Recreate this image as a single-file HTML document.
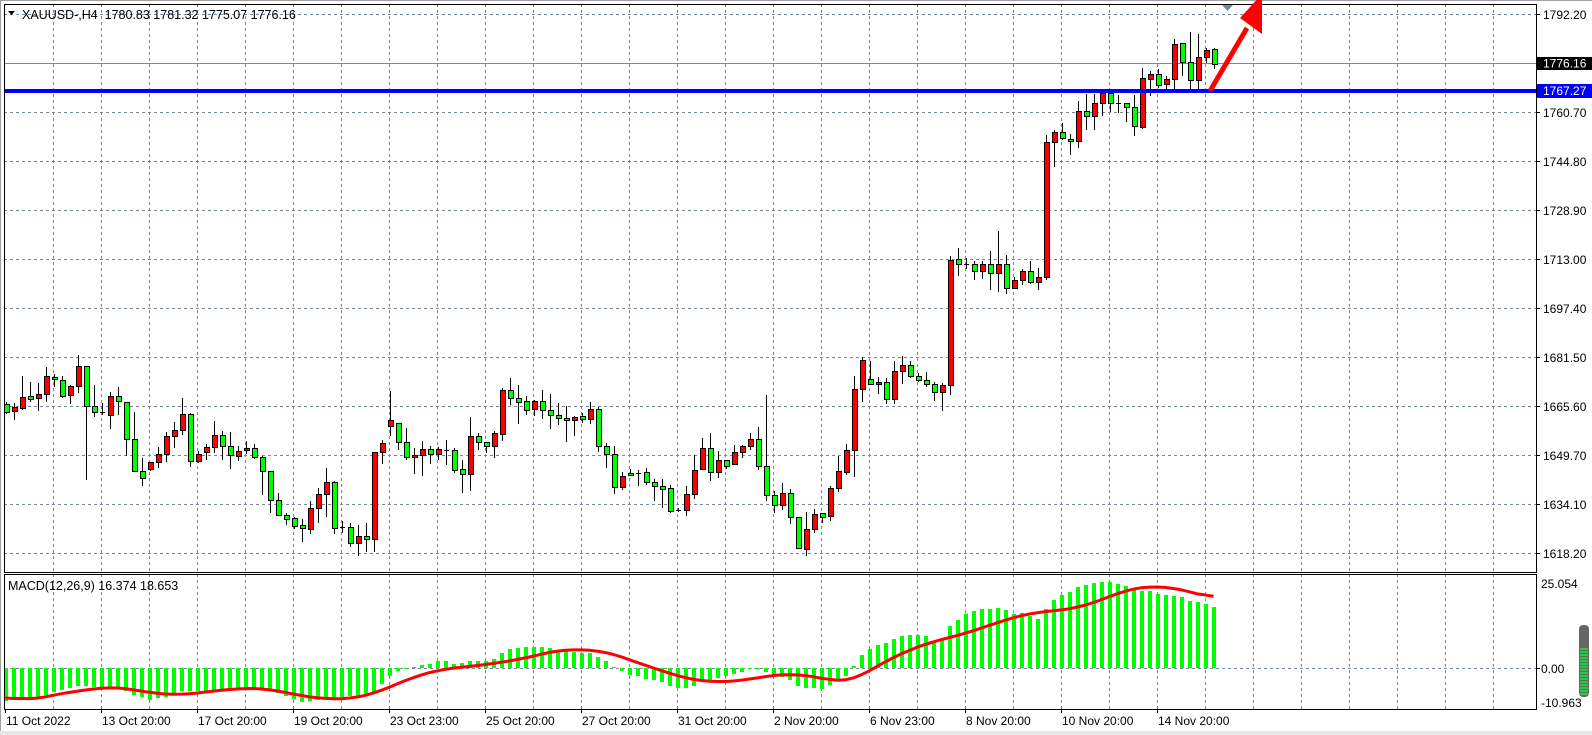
<!DOCTYPE html>
<html><head><meta charset="utf-8"><style>
html,body{margin:0;padding:0;background:#fff;width:1592px;height:735px;overflow:hidden}
svg{display:block}
text{font-family:"Liberation Sans",sans-serif;font-size:12px;fill:#000}
</style></head><body>
<svg id="s" width="1592" height="735" xmlns="http://www.w3.org/2000/svg"></svg>
<script>
const C=[[404,412,402,413,'G'],[407,411,403,419,'R'],[397,408,376,409,'R'],[396,399,382,401,'G'],[394,398,383,410,'R'],[376,394,367,401,'R'],[377,379,374,386,'G'],[380,396,376,397,'G'],[386,395,385,403,'R'],[366,386,355,392,'R'],[366,406,366,479,'G'],[406,412,385,416,'G'],[412,413,403,414,'G'],[396,415,392,428,'R'],[396,401,387,414,'G'],[402,439,402,455,'G'],[439,471,412,471,'G'],[471,478,458,485,'G'],[462,469,462,470,'R'],[454,462,447,467,'R'],[436,454,432,461,'R'],[430,436,422,447,'R'],[414,430,398,434,'R'],[414,461,413,466,'G'],[454,461,451,462,'R'],[447,452,444,459,'R'],[435,447,421,452,'R'],[435,446,431,459,'G'],[446,455,432,468,'G'],[451,456,446,460,'R'],[448,450,441,453,'R'],[448,457,444,458,'G'],[457,471,456,494,'G'],[471,500,471,512,'G'],[500,515,493,515,'G'],[515,519,513,524,'G'],[518,526,517,528,'G'],[525,528,519,541,'G'],[508,529,501,533,'R'],[494,508,488,522,'R'],[482,494,468,516,'R'],[482,528,481,533,'G'],[527,528,521,532,'G'],[527,543,523,546,'G'],[536,543,525,555,'R'],[536,539,523,551,'G'],[452,539,452,551,'R'],[443,452,440,463,'R'],[420,426,391,435,'R'],[423,442,423,449,'G'],[442,457,428,459,'G'],[455,457,448,473,'R'],[449,455,441,475,'R'],[449,454,446,463,'G'],[449,454,447,459,'R'],[450,451,440,464,'G'],[450,470,448,472,'G'],[469,474,460,492,'G'],[436,474,417,490,'R'],[436,442,433,449,'G'],[442,446,442,452,'G'],[433,446,431,457,'R'],[390,434,388,440,'R'],[390,398,378,404,'G'],[398,402,385,423,'G'],[401,410,396,414,'G'],[401,409,400,415,'R'],[401,410,390,418,'G'],[410,415,394,428,'G'],[415,418,403,424,'G'],[418,420,406,441,'G'],[417,420,416,435,'R'],[416,419,413,422,'G'],[409,419,402,423,'R'],[409,446,407,451,'G'],[446,454,443,467,'G'],[454,487,446,493,'G'],[476,487,472,489,'R'],[473,475,469,475,'G'],[473,474,470,485,'G'],[472,482,468,484,'G'],[482,486,479,500,'G'],[486,489,479,507,'G'],[488,511,485,512,'G'],[510,511,508,511,'G'],[494,510,486,515,'R'],[470,494,455,498,'R'],[448,469,438,469,'R'],[448,472,433,480,'G'],[460,472,451,477,'R'],[460,466,460,468,'G'],[452,464,445,464,'R'],[446,452,445,457,'R'],[439,446,433,449,'R'],[439,466,427,469,'G'],[466,495,395,500,'G'],[495,505,491,512,'G'],[493,505,483,509,'R'],[493,517,489,523,'G'],[517,548,517,548,'G'],[529,549,512,555,'R'],[514,529,509,532,'R'],[513,517,513,522,'G'],[488,516,486,520,'R'],[471,488,456,491,'R'],[450,472,444,474,'R'],[389,450,376,476,'R'],[360,389,357,401,'R'],[379,384,361,384,'G'],[382,384,377,393,'R'],[382,399,378,403,'G'],[371,399,361,403,'R'],[365,371,356,383,'R'],[365,376,361,377,'G'],[376,380,373,381,'G'],[380,384,372,386,'G'],[384,392,382,400,'G'],[385,392,383,410,'R'],[260,385,256,394,'R'],[259,264,248,275,'G'],[264,265,258,268,'G'],[264,271,261,279,'G'],[264,271,261,278,'R'],[264,273,251,289,'G'],[264,273,231,291,'R'],[264,288,255,293,'G'],[280,288,277,288,'R'],[271,280,269,284,'R'],[271,282,261,283,'G'],[277,282,268,289,'R'],[142,277,135,279,'R'],[132,142,130,166,'R'],[132,138,123,139,'G'],[139,141,134,154,'G'],[111,141,101,147,'R'],[111,116,94,129,'G'],[103,116,94,129,'R'],[93,103,91,115,'R'],[93,103,92,111,'G'],[103,104,95,112,'G'],[103,107,103,121,'G'],[107,126,95,135,'G'],[78,127,68,128,'R'],[74,79,71,95,'R'],[74,85,69,87,'G'],[79,84,76,88,'R'],[44,79,39,88,'R'],[43,62,43,75,'G'],[62,80,32,88,'G'],[57,80,34,89,'R'],[50,57,48,62,'R'],[49,64,48,68,'G']];
const H=[[0,-33],[4,-29],[7,-22],[9,-18],[11,-19],[14,-20],[16,-27],[18,-32],[20,-29],[22,-23],[25,-23],[28,-21],[30,-19],[33,-23],[35,-28],[37,-34],[39,-32],[42,-29],[44,-28],[46,-24],[47,-16],[48,-8],[49,-3],[50,-1],[51,1],[52,3],[53,4],[54,7],[55,7],[56,4],[57,5],[58,7],[60,7],[61,9],[62,15],[63,19],[64,20],[66,21],[67,21],[68,20],[69,18],[70,17],[72,15],[73,15],[74,11],[75,7],[76,1],[77,-3],[78,-7],[79,-8],[80,-11],[81,-12],[82,-14],[83,-18],[84,-20],[85,-20],[86,-18],[87,-13],[88,-12],[89,-10],[90,-8],[91,-6],[92,-4],[93,-1],[94,-1],[95,-4],[96,-7],[97,-9],[98,-12],[99,-18],[100,-20],[101,-20],[102,-21],[103,-17],[104,-13],[105,-8],[106,2],[107,13],[108,19],[109,23],[110,25],[111,29],[112,32],[113,33],[114,33],[115,32],[116,27],[117,29],[118,42],[119,48],[120,54],[121,57],[122,59],[123,59],[124,60],[125,58],[126,54],[127,55],[128,52],[129,49],[130,59],[131,68],[132,73],[133,76],[134,81],[135,83],[136,85],[137,86],[138,86],[139,84],[140,82],[141,78],[142,77],[143,77],[144,74],[145,73],[146,72],[147,71],[148,67],[149,66],[150,64],[151,61]];
const S=[[0,-28],[2,-32],[3,-32],[8,-24],[13,-19],[15,-20],[18,-25],[22,-27],[26,-23],[30,-20],[33,-21],[37,-28],[40,-31],[43,-31],[46,-26],[48,-19],[51,-9],[54,-2],[57,1],[59,2],[62,6],[64,8],[67,14],[70,19],[72,18],[75,17],[78,8],[81,0],[84,-8],[86,-12],[88,-14],[92,-13],[95,-8],[98,-6],[101,-8],[104,-14],[106,-12],[108,-3],[110,7],[113,18],[116,27],[119,32],[122,40],[125,48],[128,55],[131,57],[134,60],[137,68],[140,78],[143,82],[145,81],[148,77],[151,69]];
function lin(K,i){for(let k=0;k<K.length-1;k++){const a=K[k],b=K[k+1];if(i>=a[0]&&i<=b[0]){return a[1]+(b[1]-a[1])*(i-a[0])/(b[0]-a[0]);}}return K[K.length-1][1];}
let o='';
const X=i=>5.5+8*i;
const L=4,R=1536,T=4,MB=572,MT=574,BB=709,Z=668;
for(let x=53;x<R;x+=48){o+=`<line x1="${x+.5}" y1="${T}" x2="${x+.5}" y2="${MB}" stroke="#778899" stroke-dasharray="3,3"/>`;o+=`<line x1="${x+.5}" y1="${MT}" x2="${x+.5}" y2="${BB}" stroke="#778899" stroke-dasharray="3,3"/>`;}
const PL=['1792.20','1776.30','1760.70','1744.80','1728.90','1713.00','1697.40','1681.50','1665.60','1649.70','1634.10','1618.20'];
for(let k=0;k<12;k++){const y=14+49*k+.5;o+=`<line x1="${L}" y1="${y}" x2="${R}" y2="${y}" stroke="#778899" stroke-dasharray="3,3"/><line x1="${R}" y1="${y}" x2="${R+4}" y2="${y}" stroke="#000"/>`;if(k!=1)o+=`<text x="1543" y="${y+4.5}">${PL[k]}</text>`;}
o+=`<line x1="${L}" y1="${Z+.5}" x2="${R}" y2="${Z+.5}" stroke="#778899" stroke-dasharray="3,3"/>`;
o+=`<line x1="${L}" y1="63.5" x2="${R}" y2="63.5" stroke="#778899"/>`;
C.forEach((c,i)=>{const x=Math.round(X(i));const col=c[4]=='G'?'#00ff00':'#ff0000';
o+=`<line x1="${x+.5}" y1="${c[2]}" x2="${x+.5}" y2="${c[3]+1}" stroke="#000"/>`;
if(c[1]-c[0]<=1){o+=`<line x1="${x-2}" y1="${c[0]+.5}" x2="${x+3}" y2="${c[0]+.5}" stroke="#000"/>`;}
else o+=`<rect x="${x-2+.5}" y="${c[0]+.5}" width="5" height="${c[1]-c[0]}" fill="${col}" stroke="#000"/>`;});
o+=`<rect x="${L}" y="89" width="${R-L}" height="4" fill="#0000ff"/>`;
for(let i=0;i<152;i++){const v=Math.round(lin(H,i));const x=Math.round(X(i))-2;if(v>=0)o+=`<rect x="${x}" y="${Z-v}" width="4" height="${v}" fill="#00ff00"/>`;else o+=`<rect x="${x}" y="${Z}" width="4" height="${-v}" fill="#00ff00"/>`;}
// smoothed signal
const sv=[];for(let i=0;i<152;i++)sv.push(lin(S,i));
const sm=sv.map((v,i)=>{let s=0,n=0;for(let j=-2;j<=2;j++){const k=i+j;if(k>=0&&k<152){s+=sv[k];n++;}}return s/n;});
let p='';for(let i=0;i<152;i++){p+=(i?'L':'M')+X(i).toFixed(1)+','+(Z-sm[i]).toFixed(1);}
o+=`<path d="${p}" fill="none" stroke="#ff0000" stroke-width="3" stroke-linejoin="round"/>`;
o+=`<rect x="${L+.5}" y="${T+.5}" width="${R-L}" height="${MB-T}" fill="none" stroke="#000"/>`;
o+=`<rect x="${L+.5}" y="${MT+.5}" width="${R-L}" height="${BB-MT}" fill="none" stroke="#000"/>`;
o+=`<line x1="0" y1="0.5" x2="1592" y2="0.5" stroke="#a0a0a0"/><line x1="0.5" y1="0" x2="0.5" y2="735" stroke="#a0a0a0"/>`;
o+=`<rect x="1537" y="57" width="55" height="13" fill="#000"/><text x="1543" y="67.5" style="fill:#fff">1776.16</text>`;
o+=`<rect x="1537" y="84" width="55" height="14" fill="#0000ff"/><text x="1543" y="95" style="fill:#fff">1767.27</text>`;
o+=`<text x="1541" y="588">25.054</text><text x="1541" y="673">0.00</text><text x="1541" y="707">-10.963</text>`;
o+=`<line x1="${R}" y1="${Z+.5}" x2="${R+4}" y2="${Z+.5}" stroke="#000"/>`;
o+=`<polygon points="8,11 15,11 11.5,15" fill="#000"/><text x="22" y="19" style="font-size:12.5px">XAUUSD-,H4&#160; 1780.83 1781.32 1775.07 1776.16</text>`;
o+=`<text x="8" y="590" style="font-size:12.5px">MACD(12,26,9) 16.374 18.653</text>`;
const D=['11 Oct 2022','13 Oct 20:00','17 Oct 20:00','19 Oct 20:00','23 Oct 23:00','25 Oct 20:00','27 Oct 20:00','31 Oct 20:00','2 Nov 20:00','6 Nov 23:00','8 Nov 20:00','10 Nov 20:00','14 Nov 20:00'];
D.forEach((d,k)=>{const x=5+96*k;o+=`<line x1="${x+.5}" y1="${BB}" x2="${x+.5}" y2="${BB+4}" stroke="#000"/><text x="${x+1}" y="725">${d}</text>`;});
o+=`<polygon points="1222,5 1233,5 1227.5,11" fill="#778899"/>`;
o+=`<line x1="1210" y1="91" x2="1247" y2="28" stroke="#ff0000" stroke-width="5"/>`;
o+=`<polygon points="1240,18 1262,-6 1262,34" fill="#ff0000"/>`;
o+=`<rect x="1579" y="625" width="10" height="72" rx="4" fill="#666"/>`;
for(let y=648;y<694;y+=3)o+=`<rect x="1580" y="${y}" width="8" height="2" fill="#22cc44"/>`;
o+=`<rect x="0" y="731" width="1592" height="4" fill="#e8e8e8"/>`;
document.getElementById('s').innerHTML=o;
</script>
</body></html>
